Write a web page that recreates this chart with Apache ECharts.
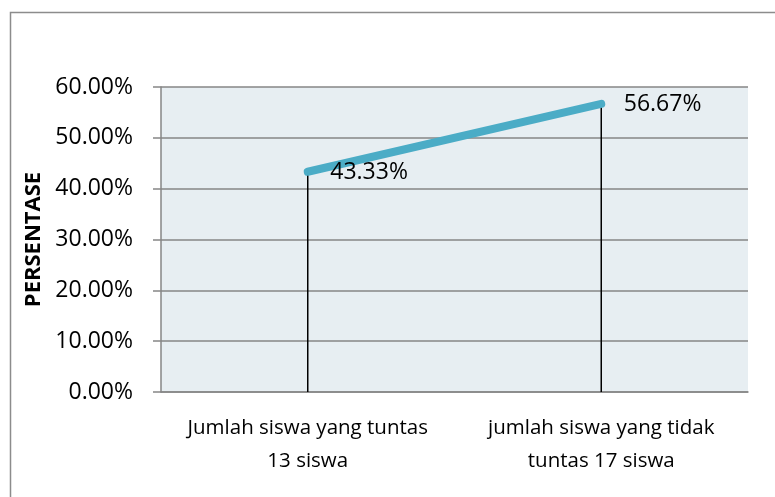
<!DOCTYPE html>
<html><head><meta charset="utf-8">
<script src="https://cdn.jsdelivr.net/npm/echarts@6/dist/echarts.min.js"></script>
<style>html,body{margin:0;padding:0;background:#fff}#c{width:775px;height:497px}</style>
</head><body><div id="c"></div>
<script>
var categories = ['Jumlah siswa yang tuntas\n13 siswa', 'jumlah siswa yang tidak\ntuntas 17 siswa'];
var values = [43.33, 56.67];
var yTicks = [0, 10, 20, 30, 40, 50, 60];
var yTitle = 'PERSENTASE';

var FONT = '"Open Sans"';
var chart = echarts.init(document.getElementById('c'));
chart.setOption({
  animation: false,
  backgroundColor: '#fff',
  graphic: [{type:'rect', shape:{x:10.5,y:12.5,width:800,height:600}, style:{fill:null, stroke:'#8c8c8c', lineWidth:1.5}, silent:true, z:-10}],
  grid: {left:161, right:27, top:87, bottom:105, show:true, backgroundColor:'#E7EEF2', borderWidth:0},
  xAxis: {
    type:'category', data:categories, boundaryGap:true,
    axisLine:{lineStyle:{color:'#868686', width:1.5}},
    axisTick:{show:false},
    axisLabel:{color:'#000', fontFamily:FONT, fontSize:20.5, lineHeight:33, margin:20, interval:0}
  },
  yAxis: {
    type:'value', min:yTicks[0], max:yTicks[yTicks.length-1], interval:10,
    name:yTitle, nameLocation:'middle', nameGap:114, nameRotate:90,
    nameTextStyle:{color:'#000', fontFamily:FONT, fontSize:22, fontWeight:'bold'},
    axisLine:{show:true, lineStyle:{color:'#868686', width:1.5}},
    axisTick:{show:true, length:8, lineStyle:{color:'#868686', width:1.5}},
    splitLine:{lineStyle:{color:'#868686', width:1.5}},
    axisLabel:{color:'#000', fontFamily:FONT, fontSize:23, margin:28, formatter:function(v){return v.toFixed(2)+'%';}}
  },
  series: [
    {type:'bar', data:values, barWidth:1.5, itemStyle:{color:'#000'}, z:1, silent:true},
    {type:'line', data:values, z:5, symbol:'circle', symbolSize:1, showSymbol:true,
     itemStyle:{color:'#4BACC6'},
     lineStyle:{color:'#4BACC6', width:8, cap:'round'},
     label:{show:true, position:'right', distance:22, offset:[0,1], color:'#000', fontFamily:FONT, fontSize:23,
       formatter:function(p){return p.value.toFixed(2)+'%';}}
    }
  ]
});
</script></body></html>
